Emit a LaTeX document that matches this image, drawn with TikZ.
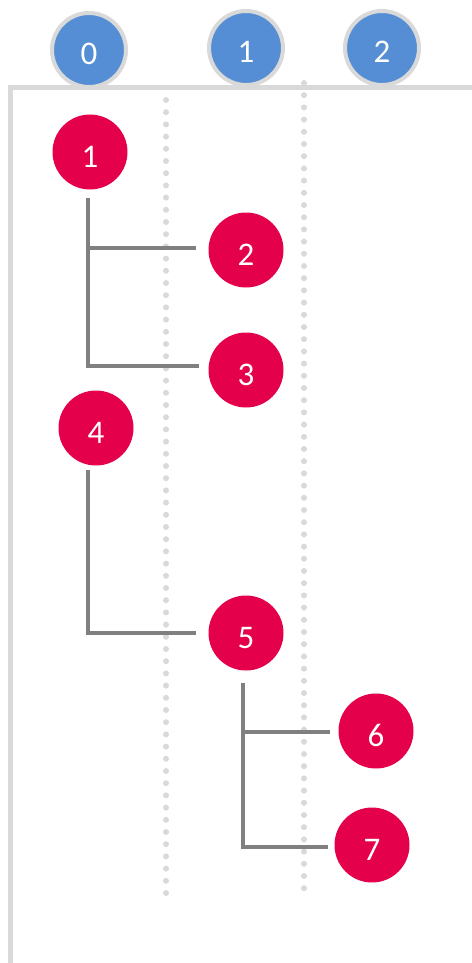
\documentclass[tikz,border=0pt]{standalone}
\usepackage{fontspec}
\setmainfont{Carlito}
\definecolor{nodered}{HTML}{E4004B}
\definecolor{nodeblue}{HTML}{558ED5}
\definecolor{lightgray}{HTML}{D9D9D9}
\definecolor{conngray}{HTML}{808080}
\begin{document}
\begin{tikzpicture}[x=1pt,y=-1pt,
  digit/.style={circle,inner sep=0pt,text=white,font=\fontsize{33}{33}\selectfont,
    text height=30pt,text depth=0pt},
  rednode/.style={digit,fill=nodered,minimum size=75pt},
  bluenode/.style={digit,fill=nodeblue,draw=lightgray,line width=4pt,minimum size=74pt},
  axis/.style={draw=lightgray,line width=5pt},
  guide/.style={draw=lightgray,line width=6pt,line cap=round,dash pattern=on 0pt off 12.2pt},
  conn/.style={draw=conngray,line width=4pt}]
\useasboundingbox (0,0) rectangle (471,963);
% axes
\coordinate (axtop) at (10,88);
\coordinate (axbot) at (10,965);
\coordinate (axright) at (473,88);
\draw[axis] (axbot) -- (axtop) -- (axright);
% guides
\coordinate (g1a) at (166,100);
\coordinate (g1b) at (166,898);
\coordinate (g2a) at (304,83);
\coordinate (g2b) at (304,894);
\draw[guide] (g1a) -- (g1b);
\draw[guide] (g2a) -- (g2b);
% level heads
\node[bluenode] (l0) at (89,50) {0};
\node[bluenode] (l1) at (246,48) {1};
\node[bluenode] (l2) at (382,48) {2};
% nodes
\node[rednode] (n1) at (90,152) {1};
\node[rednode] (n2) at (246,250) {2};
\node[rednode] (n3) at (246,370) {3};
\node[rednode] (n4) at (96,428) {4};
\node[rednode] (n5) at (246,633) {5};
\node[rednode] (n6) at (376,731) {6};
\node[rednode] (n7) at (372,845) {7};
% connectors
\coordinate (t1) at (88,198);
\coordinate (t1b) at (88,248);
\draw[conn] (t1) |- ([xshift=-12pt,yshift=2pt]n2.west);
\draw[conn] (t1b) |- ([xshift=-9pt,yshift=4pt]n3.west);
\coordinate (t4) at (88,470);
\draw[conn] (t4) |- ([xshift=-12pt]n5.west);
\coordinate (t5) at (243,683);
\coordinate (t5b) at (243,732);
\draw[conn] (t5) |- ([xshift=-8pt,yshift=-1pt]n6.west);
\draw[conn] (t5b) |- ([xshift=-6pt,yshift=-2pt]n7.west);
\end{tikzpicture}
\end{document}
